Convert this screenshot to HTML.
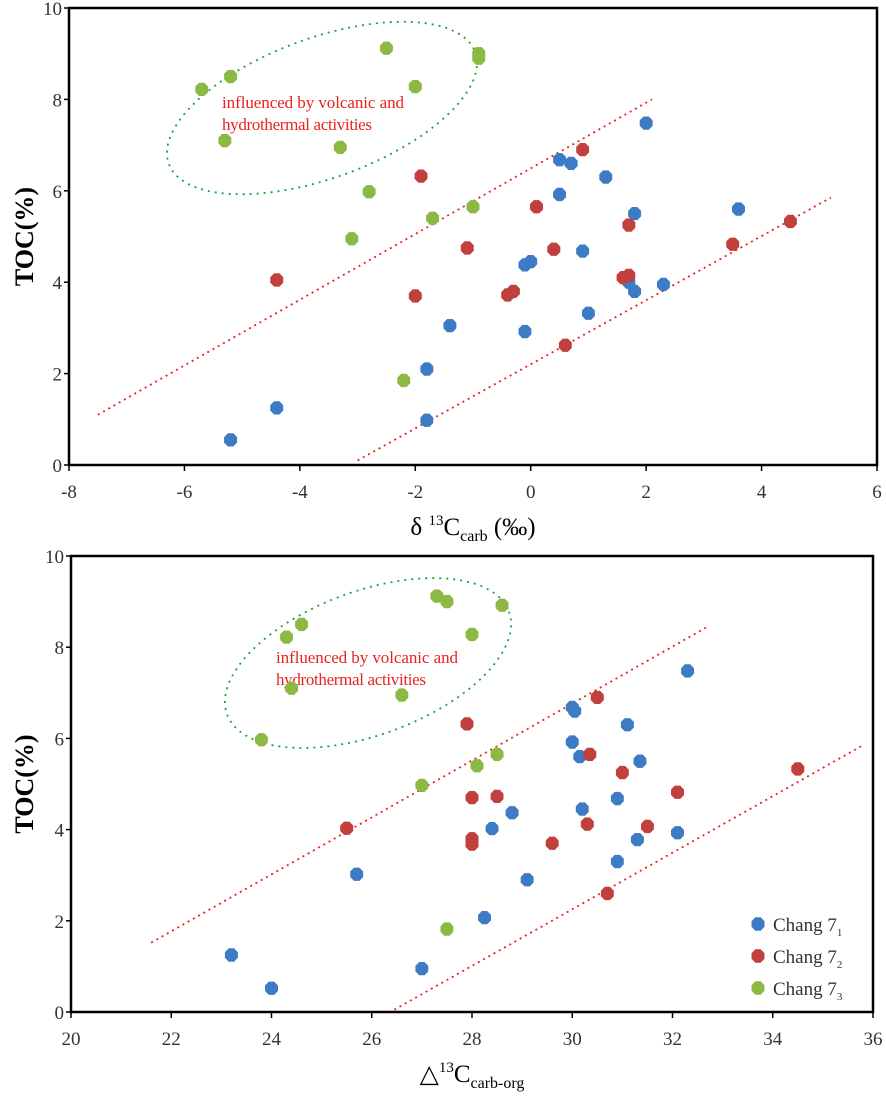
<!DOCTYPE html>
<html><head><meta charset="utf-8"><style>
body{margin:0;background:#fff}
svg text{font-family:"Liberation Serif",serif}
</style></head><body>
<svg id="s" width="886" height="1093" xmlns="http://www.w3.org/2000/svg"></svg>
<script>
const topXTicks=[-8,-6,-4,-2,0,2,4,6];
const yTicks=[0,2,4,6,8,10];
const botXTicks=[20,22,24,26,28,30,32,34,36];
const topBlueX=[-5.2,-4.4,-1.8,-1.8,-1.4,-0.1,-0.1,0,0.5,0.7,0.5,0.9,1,1.3,1.8,1.8,1.7,2,2.3,3.6];
const topBlueY=[0.55,1.25,0.98,2.1,3.05,2.92,4.38,4.45,6.68,6.6,5.92,4.68,3.32,6.3,5.5,3.8,4.0,7.48,3.95,5.6];
const topRedX=[-4.4,-2,-1.9,-1.1,-0.4,-0.3,0.1,0.4,0.6,0.9,1.6,1.7,1.7,3.5,4.5];
const topRedY=[4.05,3.7,6.32,4.75,3.72,3.8,5.65,4.72,2.62,6.9,4.1,4.15,5.25,4.83,5.33];
const topGreenX=[-5.7,-5.2,-5.3,-3.3,-2.8,-3.1,-1.7,-1,-2.5,-2,-0.9,-0.9,-2.2];
const topGreenY=[8.22,8.5,7.1,6.95,5.98,4.95,5.4,5.65,9.12,8.28,9.0,8.9,1.85];
const botBlueX=[23.2,24,25.7,27,28.25,28.4,28.8,29.1,30,30.05,30,30.15,30.2,30.9,30.9,31.1,31.35,31.3,32.1,32.3];
const botBlueY=[1.25,0.52,3.02,0.95,2.07,4.02,4.37,2.9,6.68,6.6,5.92,5.6,4.45,4.68,3.3,6.3,5.5,3.78,3.93,7.48];
const botRedX=[25.5,27.9,28,28,28,28.5,29.6,30.3,30.35,30.5,30.7,31,31.5,32.1,34.5];
const botRedY=[4.03,6.32,4.7,3.8,3.68,4.73,3.7,4.12,5.65,6.9,2.6,5.25,4.07,4.82,5.33];
const botGreenX=[23.8,24.3,24.6,24.4,26.6,27.3,27.5,28.6,28,28.5,28.1,27,27.5];
const botGreenY=[5.97,8.22,8.5,7.1,6.95,9.12,9.0,8.92,8.28,5.65,5.4,4.97,1.82];
const topLines=[[-7.5,1.1,2.1,8.0],[-3,0.1,5.2,5.85]];
const botLines=[[21.6,1.52,32.7,8.45],[26.45,0.05,35.8,5.85]];
const C={b:"#3d7cc4",r:"#c1403d",g:"#8cb844"};
const S=document.getElementById('s');
const NS="http://www.w3.org/2000/svg";
function mk(t,a,p){const e=document.createElementNS(NS,t);for(const k in a)e.setAttribute(k,a[k]);(p||S).appendChild(e);return e;}
function hex(cx,cy,col){let p=[];for(let i=0;i<8;i++){const a=Math.PI/8+i*Math.PI/4;p.push((cx+7*Math.cos(a)).toFixed(1)+","+(cy+7.2*Math.sin(a)).toFixed(1));}return p.join(" ");}
function chart(name,x0,x1,xmin,xmax,y0,y1,xt,series,lines,ell,annot,xtitle){
  const g=mk('g',{});
  
  
  const X=v=>x0+(v-xmin)/(xmax-xmin)*(x1-x0);
  const Y=v=>y0-(v/10)*(y0-y1);
  const fr=mk('rect',{x:x0,y:y1,width:x1-x0,height:y0-y1,fill:'none',stroke:'#000','stroke-width':2.5},g);
  
  
  xt.forEach(v=>{const l=mk('line',{x1:X(v),x2:X(v),y1:y0,y2:y0+6,stroke:'#000','stroke-width':1.5},g);
    
    
    const t=mk('text',{x:X(v),y:y0+33,'font-size':19,'text-anchor':'middle',fill:'#333'},g);t.textContent=v;
    
    });
  yTicks.forEach(v=>{const l=mk('line',{x1:x0-5,x2:x0,y1:Y(v),y2:Y(v),stroke:'#000','stroke-width':1.5},g);
    
    
    const t=mk('text',{x:x0-7,y:Y(v)+7,'font-size':19,'text-anchor':'end',fill:'#333'},g);t.textContent=v;
    
    });
  const yt=mk('text',{x:0,y:0,'font-size':26,'font-weight':'bold','text-anchor':'middle',transform:`translate(33,${(y0+y1)/2}) rotate(-90)`},g);
  yt.textContent='TOC(%)';
  
  
  const xtt=mk('text',{x:(x0+x1)/2,y:y0+70,'font-size':25,'text-anchor':'middle'},g);
  xtt.innerHTML=xtitle;
  
  
  lines.forEach(L=>{const l=mk('line',{x1:X(L[0]),y1:Y(L[1]),x2:X(L[2]),y2:Y(L[3]),stroke:'#e8231f','stroke-width':1.8,'stroke-dasharray':'2 4'},g);
    
    });
  const e=mk('ellipse',{cx:ell[0],cy:ell[1],rx:ell[2],ry:ell[3],transform:`rotate(-20 ${ell[0]} ${ell[1]})`,fill:'none',stroke:'#1aa33a','stroke-width':1.8,'stroke-dasharray':'2 5'},g);
  
  
  ['influenced by volcanic and','hydrothermal activities'].forEach((s,i)=>{const t=mk('text',{x:annot[0],y:annot[1]+i*22,'font-size':17,fill:'#e8231f',textLength:i?150:182},g);t.textContent=s;
    
    });
  series.forEach(sr=>{sr[0].forEach((v,i)=>{const p=mk('polygon',{points:hex(X(v),Y(sr[1][i]),0),fill:sr[2]},g);
    
    });});
}
chart('top-chart',69,877,-8,6,465,8,topXTicks,
  [[topBlueX,topBlueY,C.b,'chang7-1'],[topRedX,topRedY,C.r,'chang7-2'],[topGreenX,topGreenY,C.g,'chang7-3']],
  topLines,[322,108,163,70],[222,108],'δ <tspan font-size="15" dy="-10">13</tspan><tspan dy="10">C</tspan><tspan font-size="16" dy="6">carb</tspan><tspan dy="-6"> (‰)</tspan>');
chart('bottom-chart',71,873,20,36,1012,556,botXTicks,
  [[botBlueX,botBlueY,C.b,'chang7-1'],[botRedX,botRedY,C.r,'chang7-2'],[botGreenX,botGreenY,C.g,'chang7-3']],
  botLines,[368,663,150,72],[276,663],'△<tspan font-size="15" dy="-10">13</tspan><tspan dy="10">C</tspan><tspan font-size="16" dy="6">carb-org</tspan>');
const leg=mk('g',{});


[['Chang 7','1',C.b],['Chang 7','2',C.r],['Chang 7','3',C.g]].forEach((d,i)=>{
  const y=924+i*32;
  const p=mk('polygon',{points:hex(758,y,0),fill:d[2]},leg);
  
  
  const t=mk('text',{x:773,y:y+7,'font-size':19,fill:'#333'},leg);
  t.innerHTML=d[0]+'<tspan font-size="11" dy="5">'+d[1]+'</tspan>';
  
  
});
</script>
</body></html>
